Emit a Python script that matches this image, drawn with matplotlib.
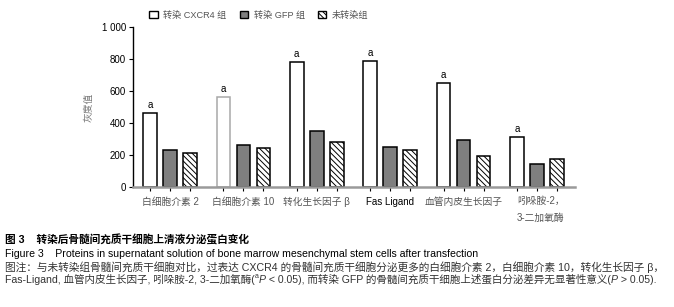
import numpy as np
import matplotlib as mpl
from matplotlib import pyplot as plt

mpl.rcParams['hatch.linewidth'] = 0.7
plt.rcParams['font.family'] = ['Liberation Sans', 'Noto Sans CJK SC', 'DejaVu Sans']

# data
categories = ['白细胞介素 2', '白细胞介素 10', '转化生长因子 β', 'Fas Ligand', '血管内皮生长因子', '吲哚胺-2，\n3-二加氧酶']
cxcr4 = [463, 564, 784, 790, 652, 314]
gfp = [231, 262, 350, 252, 296, 145]
untrans = [212, 245, 281, 231, 195, 176]
groups = ['转染 CXCR4 组', '转染 GFP 组', '未转染组']

fig = plt.figure(figsize=(6.74, 3.07), dpi=100)
ax = fig.add_axes([0.1973, 0.391, 0.6558, 0.521])

step = 3.67
x = np.arange(len(categories)) * step
w = 0.68
hatch = '\\\\\\\\\\\\'

edges1 = ['black'] * len(cxcr4)
edges1[1] = '#a8a8a8'
ax.bar(x - 1, cxcr4, w, color='white', edgecolor=edges1, linewidth=1.1, zorder=2)
ax.bar(x, gfp, w, color='#7f7f7f', edgecolor='black', linewidth=1.1, zorder=2)
ax.bar(x + 1, untrans, w, color='white', edgecolor='black', hatch=hatch, linewidth=1.1, zorder=2)

for xi, v in zip(x - 1, cxcr4):
    ax.text(xi, v + 18, 'a', ha='center', va='bottom', fontsize=7)

ax.set_xlim(-1.85, x[-1] + 1.9)
ax.set_ylim(0, 1000)
ax.set_yticks(range(0, 1001, 200))
ax.set_yticklabels(['0', '200', '400', '600', '800', '1 000'], fontsize=7)
ax.set_xticks(np.concatenate([x - 1, x, x + 1]))
ax.set_xticklabels([])
ax.tick_params(axis='x', length=3, width=0.8, direction='out')
ax.tick_params(axis='y', length=3, width=0.8, pad=2)
ax.spines['top'].set_visible(False)
ax.spines['right'].set_visible(False)
ax.spines['bottom'].set_color('#9a9a9a')
ax.spines['bottom'].set_linewidth(1.8)
ax.spines['left'].set_linewidth(1.0)
ax.set_ylabel('灰度值', fontsize=7, color='#777777', labelpad=6)

for xi, lab in zip(x, categories):
    col = 'black' if lab == 'Fas Ligand' else '#555555'
    if '\n' in lab:
        ax.text(xi - 1, -55, lab, ha='left', va='top', fontsize=7, color=col, linespacing=1.9)
    else:
        ax.text(xi, -62, lab, ha='center', va='top', fontsize=7, color=col)

# legend
handles = [mpl.patches.Patch(facecolor='white', edgecolor='black'),
           mpl.patches.Patch(facecolor='#7f7f7f', edgecolor='black'),
           mpl.patches.Patch(facecolor='white', edgecolor='black', hatch=hatch)]
leg = fig.legend(handles, groups, loc='center left', bbox_to_anchor=(0.215, 0.951), ncol=3,
                 frameon=False, fontsize=6.6, handlelength=0.9, handleheight=0.9,
                 handletextpad=0.6, columnspacing=1.45, borderpad=0)
for t in leg.get_texts():
    t.set_color('#555555')


def runs(y, parts, size, color='#333333'):
    # draw text pieces one after another on one line
    r = fig.canvas.get_renderer()
    xpos = 0.008
    for s, kw in parts:
        t = fig.text(xpos, y, s, fontsize=kw.get('size', size), va=kw.get('va', 'center'),
                     color=color, style=kw.get('style', 'normal'))
        bb = t.get_window_extent(renderer=r)
        xpos += bb.width / fig.bbox.width


# caption
fig.text(0.008, 0.218, '图 3    转染后骨髓间充质干细胞上清液分泌蛋白变化', fontsize=7.7,
         fontweight='bold', va='center')
fig.text(0.008, 0.173, 'Figure 3    Proteins in supernatant solution of bone marrow mesenchymal stem cells after transfection',
         fontsize=7.6, va='center')
fig.text(0.008, 0.130, '图注：与未转染组骨髓间充质干细胞对比，过表达 CXCR4 的骨髓间充质干细胞分泌更多的白细胞介素 2，白细胞介素 10，转化生长因子 β，',
         fontsize=7.7, va='center', color='#333333')
runs(0.088, [('Fas-Ligand, 血管内皮生长因子, 吲哚胺-2, 3-二加氧酶(', {}),
             ('a', {'size': 5, 'va': 'bottom'}),
             ('P', {'style': 'italic'}),
             (' < 0.05), 而转染 GFP 的骨髓间充质干细胞上述蛋白分泌差异无显著性意义(', {}),
             ('P', {'style': 'italic'}),
             (' > 0.05).', {})], 7.6)

fig.savefig('out.png', dpi=100)
